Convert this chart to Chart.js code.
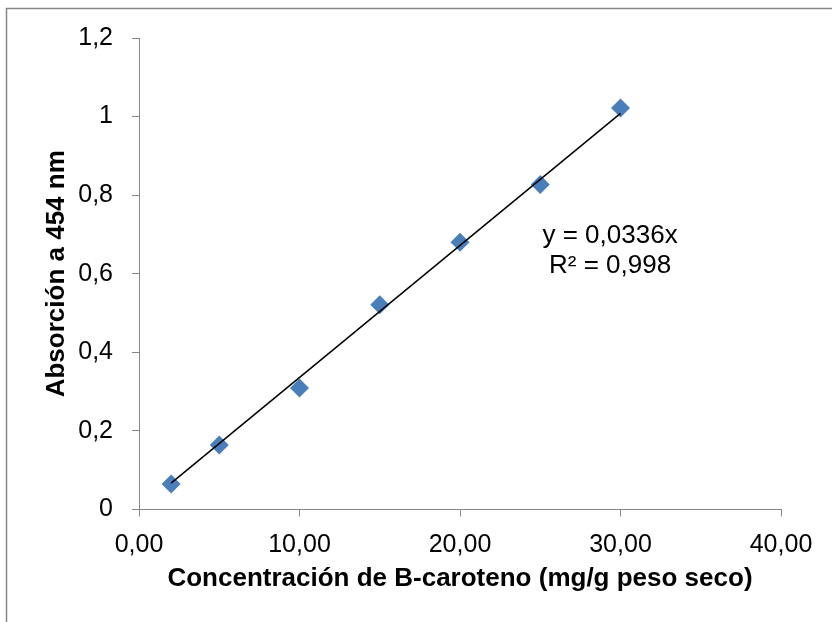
<!DOCTYPE html>
<html>
<head>
<meta charset="utf-8">
<script src="https://cdn.jsdelivr.net/npm/chart.js@4"></script>
<style>
  html, body { margin: 0; padding: 0; background: #fff; }
  #wrap { width: 832px; height: 622px; }
</style>
</head>
<body>
<div id="wrap"><canvas id="chart" width="832" height="622"></canvas></div>
<script>
// data
const concentrations = [2, 5, 10, 15, 20, 25, 30];
const absorbances = [0.065, 0.164, 0.309, 0.521, 0.680, 0.827, 1.022];
const trendSlope = 0.0336;
const rSquared = 0.998;
const yTicks = [0, 0.2, 0.4, 0.6, 0.8, 1, 1.2];
const xTicks = [0, 10, 20, 30, 40];
// where the equation label sits, in data units
const eqAnchor = { x: 29.35, y: 0.697 };

const comma = (v, d) => v.toFixed(d).replace(".", ",");

const trendPoints = [
  { x: Math.min(...concentrations), y: trendSlope * Math.min(...concentrations) },
  { x: Math.max(...concentrations), y: trendSlope * Math.max(...concentrations) },
];

const axisGray = "#868686";
const fontFamily = "'Liberation Sans', Arial, sans-serif";

const frame = {
  id: "frame",
  beforeDraw(chart) {
    const ctx = chart.ctx;
    ctx.save();
    ctx.fillStyle = "#fff";
    ctx.fillRect(0, 0, chart.width, chart.height);
    ctx.strokeStyle = axisGray;
    ctx.lineWidth = 1.5;
    ctx.strokeRect(6.5, 8.5, 900, 900);
    ctx.restore();
  },
  afterDraw(chart) {
    const ctx = chart.ctx;
    const x = chart.scales.x.getPixelForValue(eqAnchor.x);
    const y = chart.scales.y.getPixelForValue(eqAnchor.y);
    ctx.save();
    ctx.fillStyle = "#000";
    ctx.font = "26px " + fontFamily;
    ctx.textAlign = "center";
    ctx.textBaseline = "middle";
    ctx.fillText("y = " + comma(trendSlope, 4) + "x", x, y);
    ctx.fillText("R² = " + comma(rSquared, 3), x, y + 30);
    ctx.restore();
  },
};

new Chart(document.getElementById("chart"), {
  type: "scatter",
  data: {
    datasets: [
      {
        label: "Absorción",
        data: concentrations.map((c, i) => ({ x: c, y: absorbances[i] })),
        pointStyle: "rectRot",
        pointRadius: 9.5,
        pointHoverRadius: 9.5,
        backgroundColor: "#4a7ebb",
        borderColor: "#4a7ebb",
        borderWidth: 0,
        order: 2,
      },
      {
        type: "line",
        label: "Tendencia",
        data: trendPoints,
        borderColor: "#000",
        borderWidth: 1.5,
        pointRadius: 0,
        fill: false,
        order: 1,
      },
    ],
  },
  options: {
    responsive: false,
    animation: false,
    events: [],
    layout: { padding: { left: 41.4, top: 38, right: 51, bottom: 28 } },
    plugins: {
      legend: { display: false },
      tooltip: { enabled: false },
    },
    scales: {
      x: {
        type: "linear",
        min: 0,
        max: 40,
        afterBuildTicks: (s) => { s.ticks = xTicks.map((v) => ({ value: v })); },
        afterFit: (s) => { s.height = 84.5; },
        border: { display: true, color: axisGray, width: 1 },
        grid: { display: true, drawOnChartArea: false, drawTicks: true, tickLength: 7, color: axisGray },
        ticks: {
          color: "#000",
          padding: 14,
          maxRotation: 0,
          font: { family: fontFamily, size: 25 },
          callback: (v) => comma(v, 2),
        },
        title: {
          display: true,
          text: "Concentración de B-caroteno (mg/g peso seco)",
          color: "#000",
          padding: 0,
          font: { family: fontFamily, size: 26, weight: "bold" },
        },
      },
      y: {
        type: "linear",
        min: 0,
        max: 1.2,
        afterBuildTicks: (s) => { s.ticks = yTicks.map((v) => ({ value: v })); },
        afterFit: (s) => { s.width = 97.6; },
        border: { display: true, color: axisGray, width: 1 },
        grid: { display: true, drawOnChartArea: false, drawTicks: true, tickLength: 7, color: axisGray },
        ticks: {
          color: "#000",
          padding: 19,
          font: { family: fontFamily, size: 25 },
          callback: (v) => String(Math.round(v * 10) / 10).replace(".", ","),
        },
        title: {
          display: true,
          text: "Absorción a 454 nm",
          color: "#000",
          padding: 0,
          font: { family: fontFamily, size: 26, weight: "bold" },
        },
      },
    },
  },
  plugins: [frame],
});
</script>
</body>
</html>
